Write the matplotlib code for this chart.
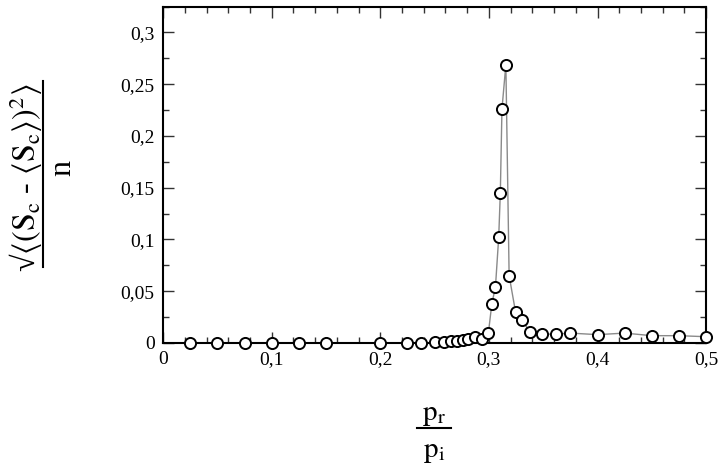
import matplotlib
matplotlib.use("Agg")
import matplotlib.pyplot as plt
from matplotlib.ticker import MultipleLocator, FuncFormatter
from matplotlib.lines import Line2D

plt.rcParams['font.family'] = ['Liberation Serif', 'DejaVu Serif']
plt.rcParams['mathtext.fontset'] = 'stix'

# data
ratio = [0.025, 0.05, 0.075, 0.1, 0.125, 0.15, 0.2, 0.225, 0.2375, 0.25,
         0.2585, 0.265, 0.2705, 0.276, 0.281, 0.2875, 0.2935, 0.2995,
         0.3027, 0.306, 0.309, 0.3105, 0.312, 0.3156, 0.3186, 0.3245,
         0.3305, 0.3375, 0.349, 0.362, 0.375, 0.4, 0.425, 0.45, 0.475, 0.5]
sigma = [0.0, 0.0, 0.0, 0.0, 0.0, 0.0, 0.0, 0.0, 0.0, 0.0005,
         0.001, 0.0015, 0.002, 0.003, 0.004, 0.006, 0.004, 0.0095,
         0.038, 0.054, 0.102, 0.145, 0.226, 0.269, 0.065, 0.030,
         0.022, 0.011, 0.0085, 0.0085, 0.0095, 0.008, 0.0095, 0.007, 0.007, 0.006]

fig = plt.figure(figsize=(7.28, 4.73), dpi=100)
ax = fig.add_axes([0.224, 0.275, 0.746, 0.711])

ax.plot(ratio, sigma, color='#8a8a8a', lw=1.0, zorder=2)
ax.plot(ratio, sigma, 'o', ls='none', ms=8, mfc='white', mec='black',
        mew=1.4, zorder=3, clip_on=False)

ax.set_xlim(0, 0.5)
ax.set_ylim(0, 0.325)
ax.xaxis.set_major_locator(MultipleLocator(0.1))
ax.xaxis.set_minor_locator(MultipleLocator(0.02))
ax.yaxis.set_major_locator(MultipleLocator(0.05))
ax.yaxis.set_minor_locator(MultipleLocator(0.025))

fmt = FuncFormatter(lambda v, p: ('%g' % round(v, 3)).replace('.', ','))
ax.xaxis.set_major_formatter(fmt)
ax.yaxis.set_major_formatter(fmt)

ax.tick_params(which='both', direction='in', top=True, right=True,
               labelsize=14, width=1.0, color='#333333')
ax.tick_params(which='major', length=8, pad=6)
ax.tick_params(which='minor', length=4)
for s in ax.spines.values():
    s.set_linewidth(1.5)

# y label as a fraction
fig.text(0.036, 0.624, r'√$\langle(\mathrm{S_c}$ - $\langle\mathrm{S_c}\rangle)^2\rangle$',
         rotation=90, ha='center', va='center', fontsize=23)
fig.add_artist(Line2D([0.059, 0.059], [0.435, 0.828], color='black', lw=1.5))
fig.text(0.086, 0.645, 'n', rotation=90, ha='center', va='center', fontsize=23)

# x label as a fraction
fig.text(0.596, 0.122, r'$\mathrm{p_r}$', ha='center', va='center', fontsize=21)
fig.add_artist(Line2D([0.573, 0.620], [0.095, 0.095], color='black', lw=1.5))
fig.text(0.596, 0.045, r'$\mathrm{p_i}$', ha='center', va='center', fontsize=21)

fig.savefig('out.png', dpi=100)
